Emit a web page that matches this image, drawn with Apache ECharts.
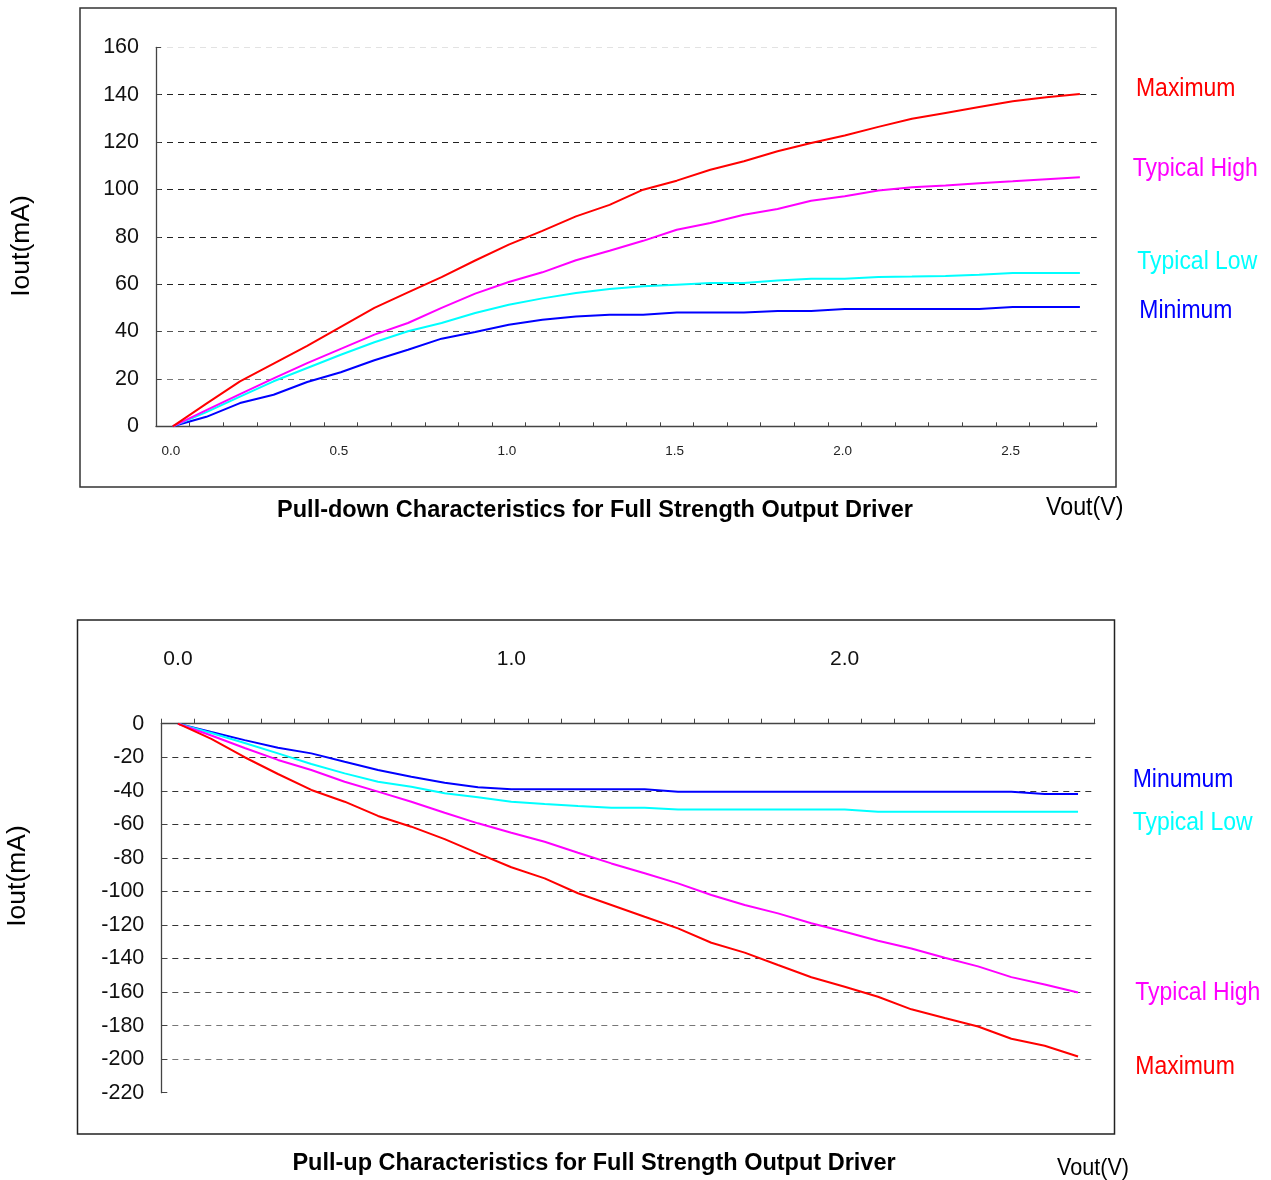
<!DOCTYPE html>
<html>
<head>
<meta charset="utf-8">
<script src="https://cdn.jsdelivr.net/npm/echarts@6/dist/echarts.min.js"></script>
<style>
html,body{margin:0;padding:0;background:#fff;}
#c{width:1271px;height:1180px;}
</style>
</head>
<body>
<div id="c"></div>
<script>
// ---- data ----
const vout = ['0.0','0.1','0.2','0.3','0.4','0.5','0.6','0.7','0.8','0.9','1.0','1.1','1.2','1.3','1.4','1.5','1.6','1.7','1.8','1.9','2.0','2.1','2.2','2.3','2.4','2.5','2.6','2.7'];

// Pull-down (top chart)
const pdMaximum = [0, 9.6, 19, 26.5, 34, 42, 50, 56.5, 63, 70, 76.7, 82.5, 88.6, 93.5, 99.9, 103.7, 108.3, 111.9, 116.1, 119.6, 122.8, 126.4, 129.8, 132.3, 134.8, 137.2, 138.9, 140.3];
const pdTypicalHigh = [0, 6.8, 13.6, 20.2, 26.7, 32.7, 38.7, 43.6, 50, 56, 60.9, 65, 70.1, 74.1, 78.3, 83.0, 85.8, 89.3, 91.7, 95.2, 97.1, 99.5, 100.9, 101.7, 102.6, 103.4, 104.3, 105.1];
const pdTypicalLow = [0, 6, 12.5, 19, 24.6, 30.2, 35.5, 40.1, 43.6, 47.8, 51.3, 54, 56.3, 58.0, 59.1, 59.8, 60.5, 60.5, 61.5, 62.3, 62.3, 63.0, 63.2, 63.5, 64.0, 64.7, 64.7, 64.7];
const pdMinimum = [0, 4, 9.8, 13.3, 18.7, 22.8, 27.9, 32.3, 37.0, 39.8, 42.9, 45, 46.4, 47.1, 47.1, 48.0, 48.0, 48.0, 48.7, 48.7, 49.5, 49.5, 49.5, 49.5, 49.5, 50.4, 50.4, 50.4];

// Pull-up (bottom chart)
const puMaximum = [0, -9, -20, -30, -39.5, -46.5, -55, -61.4, -68.8, -77.3, -85.6, -92.2, -101.1, -108.1, -115.1, -122.0, -130.6, -136.5, -143.9, -151.2, -156.8, -162.8, -170.3, -175.5, -180.5, -187.8, -192, -198.4];
const puTypicalHigh = [0, -7, -14.5, -21.6, -27.6, -34.6, -40.5, -46.5, -53.1, -59.4, -65, -70.4, -76.9, -83.3, -89.2, -95.2, -102.1, -108.1, -113.1, -119.0, -124.0, -129.4, -134, -139.5, -144.7, -151.1, -155.5, -160.3];
const puTypicalLow = [0, -5.5, -11.5, -17.7, -24, -29.6, -34.6, -37.6, -41.5, -43.9, -46.5, -47.9, -49.1, -50.1, -50.1, -51.1, -51.1, -51.1, -51.1, -51.1, -51.1, -52.5, -52.5, -52.5, -52.5, -52.5, -52.5, -52.5];
const puMinimum = [0, -5, -9.8, -14.3, -17.7, -22.7, -27.6, -31.6, -35.2, -37.9, -39.1, -39.1, -39.1, -39.1, -39.1, -40.5, -40.5, -40.5, -40.5, -40.5, -40.5, -40.5, -40.5, -40.5, -40.5, -40.5, -41.9, -41.9];

const FONT = 'Liberation Sans, Arial, Helvetica, sans-serif';
const RED = '#ff0000', MAG = '#ff00ff', CYAN = '#00ffff', BLUE = '#0000ff';

const chart = echarts.init(document.getElementById('c'), null, {renderer: 'canvas'});

function line(name, data, color, idx) {
  return {
    name: name, type: 'line', data: data, xAxisIndex: idx, yAxisIndex: idx,
    showSymbol: false, symbol: 'none', smooth: false, animation: false,
    lineStyle: {color: color, width: 2}, itemStyle: {color: color}
  };
}

function label(text, x, y, color) {
  return {
    type: 'text', x: x, y: y, scaleX: 0.9,
    style: {text: text, fill: color, fontSize: 25.5, fontFamily: FONT,
            align: 'left', verticalAlign: 'middle', textAlign: 'left', textVerticalAlign: 'middle'}
  };
}
function plainText(text, x, y, size, weight, align, rot, sx) {
  return {
    type: 'text', x: x, y: y, rotation: rot || 0, scaleX: sx || 1,
    style: {text: text, fill: '#000', fontSize: size, fontWeight: weight, fontFamily: FONT,
            align: align, verticalAlign: 'middle', textAlign: align, textVerticalAlign: 'middle'}
  };
}

const option = {
  backgroundColor: '#fff',
  animation: false,
  grid: [
    {left: 156, top: 47.3, width: 940.7, height: 379, containLabel: false},
    {left: 161.3, top: 723.7, width: 933.4, height: 369, containLabel: false}
  ],
  xAxis: [
    {
      type: 'category', data: vout, gridIndex: 0, position: 'bottom', boundaryGap: true,
      axisLine: {show: true, lineStyle: {color: '#444', width: 1.3}},
      axisTick: {show: true, inside: true, length: 4, interval: 0, lineStyle: {color: '#444'}},
      axisLabel: {interval: 4, fontSize: 13.5, color: '#222', fontFamily: FONT, margin: 18, padding: [0, 4, 0, 0]},
      splitLine: {show: false}
    },
    {
      type: 'category', data: vout, gridIndex: 1, position: 'top', boundaryGap: true,
      axisLine: {show: true, onZero: false, lineStyle: {color: '#444', width: 1.3}},
      axisTick: {show: true, inside: false, length: 5, interval: 0, lineStyle: {color: '#444'}},
      axisLabel: {interval: 9, fontSize: 21, color: '#111', fontFamily: FONT, margin: 54},
      splitLine: {show: false}
    }
  ],
  yAxis: [
    {
      type: 'value', gridIndex: 0, min: 0, max: 160, interval: 20,
      axisLine: {show: true, lineStyle: {color: '#444', width: 1.3}},
      axisTick: {show: true, inside: true, length: 5, lineStyle: {color: '#444'}},
      axisLabel: {fontSize: 21.5, color: '#111', fontFamily: FONT, margin: 17},
      splitLine: {show: true, lineStyle: {type: [6, 5], width: 1,
        color: ['rgba(0,0,0,0)', '#777', '#555', '#222', '#222', '#222', '#222', '#222', '#e2e2e2']}}
    },
    {
      type: 'value', gridIndex: 1, min: -220, max: 0, interval: 20,
      axisLine: {show: true, onZero: false, lineStyle: {color: '#444', width: 1.3}},
      axisTick: {show: true, inside: true, length: 6, lineStyle: {color: '#444'}},
      axisLabel: {fontSize: 21.5, color: '#111', fontFamily: FONT, margin: 17},
      splitLine: {show: true, lineStyle: {type: [6, 5], width: 1,
        color: ['rgba(0,0,0,0)', '#777', '#777', '#555', '#333', '#333', '#333', '#333', '#333', '#333', '#333', 'rgba(0,0,0,0)']}}
    }
  ],
  series: [
    line('Minimum', pdMinimum, BLUE, 0),
    line('Typical Low', pdTypicalLow, CYAN, 0),
    line('Typical High', pdTypicalHigh, MAG, 0),
    line('Maximum', pdMaximum, RED, 0),
    line('Minumum', puMinimum, BLUE, 1),
    line('Typical Low', puTypicalLow, CYAN, 1),
    line('Typical High', puTypicalHigh, MAG, 1),
    line('Maximum', puMaximum, RED, 1)
  ],
  graphic: [
    {type: 'rect', shape: {x: 80, y: 8, width: 1036, height: 479}, style: {fill: 'none', stroke: '#333', lineWidth: 1.5}, z: 0},
    {type: 'rect', shape: {x: 77.5, y: 620, width: 1037, height: 514}, style: {fill: 'none', stroke: '#222', lineWidth: 1.5}, z: 0},
    label('Maximum', 1136, 89, RED),
    label('Typical High', 1132.7, 169, MAG),
    label('Typical Low', 1137.3, 262, CYAN),
    label('Minimum', 1139.3, 311, BLUE),
    label('Minumum', 1132.7, 780, BLUE),
    label('Typical Low', 1132.7, 823, CYAN),
    label('Typical High', 1135.3, 993, MAG),
    label('Maximum', 1135.3, 1067, RED),
    plainText('Pull-down Characteristics for Full Strength Output Driver', 595, 511, 23.5, 'bold', 'center'),
    plainText('Pull-up Characteristics for Full Strength Output Driver', 594, 1164, 23.5, 'bold', 'center'),
    plainText('Vout(V)', 1046, 508, 25, 'normal', 'left', 0, 0.93),
    plainText('Vout(V)', 1057, 1168, 24, 'normal', 'left', 0, 0.9),
    plainText('Iout(mA)', 22, 246, 26.5, 'normal', 'center', Math.PI / 2),
    plainText('Iout(mA)', 18, 876, 26.5, 'normal', 'center', Math.PI / 2)
  ]
};
chart.setOption(option);
</script>
</body>
</html>
